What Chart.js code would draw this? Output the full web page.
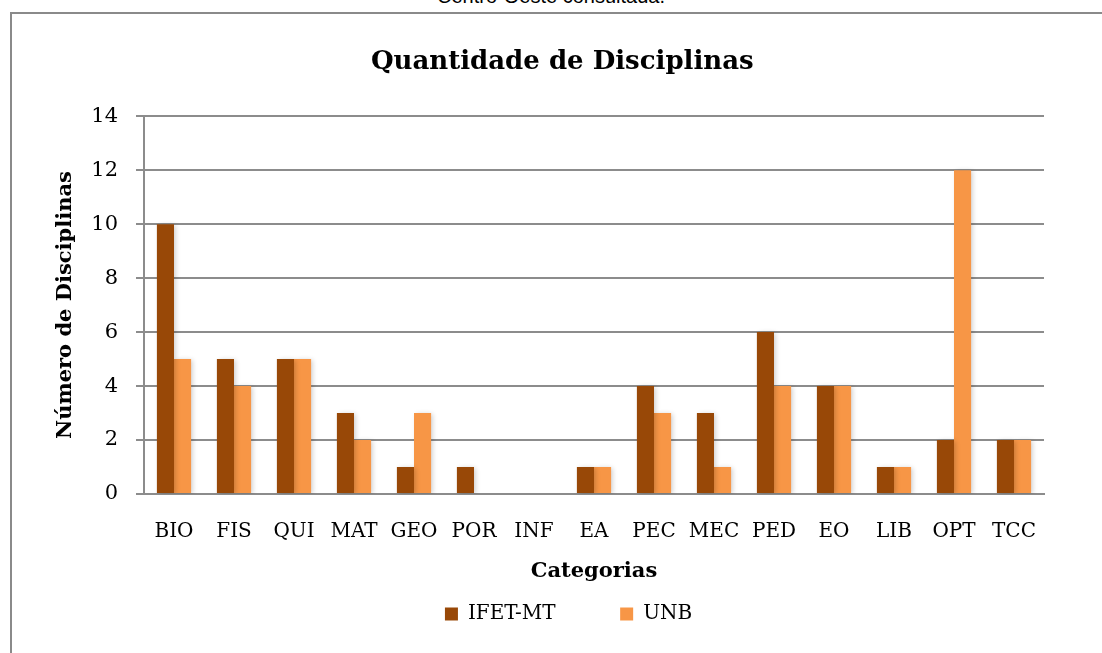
<!DOCTYPE html>
<html>
<head>
<meta charset="utf-8">
<script src="https://cdn.jsdelivr.net/npm/chart.js@4.4.0/dist/chart.umd.min.js"></script>
<style>
  html, body { margin: 0; padding: 0; background: #fff; }
  body { width: 1102px; height: 653px; position: relative; overflow: hidden; }
  #cap { position: absolute; left: 0; width: 1102px; top: -15px; text-align: center;
         font-family: "Liberation Sans", Arial, sans-serif; font-size: 20px; color: #000; }
  #frame { position: absolute; left: 10px; top: 12px; width: 1200px; height: 800px;
           border-left: 2px solid #8a8a8a; border-top: 2px solid #8a8a8a; }
  #grafik { position: absolute; left: 0; top: 0; }
</style>
</head>
<body>
<div id="cap">Centro-Oeste consultada.</div>
<div id="frame"></div>
<canvas id="grafik" width="1102" height="653"></canvas>
<script>
// ===== data =====
const kategori = ["BIO","FIS","QUI","MAT","GEO","POR","INF","EA","PEC","MEC","PED","EO","LIB","OPT","TCC"];
const ifetMT = [10, 5, 5, 3, 1, 1, 0, 1, 4, 3, 6, 4, 1, 2, 2];
const unb    = [5, 4, 5, 2, 3, 0, 0, 1, 3, 1, 4, 4, 1, 12, 2];
const yTicks = [0, 2, 4, 6, 8, 10, 12, 14];

const serif = "'DejaVu Serif', 'Liberation Serif', serif";
const grid = "#8c8c8c";

Chart.defaults.font.family = serif;
Chart.defaults.color = "#000";

// soft shadow behind the bars
const bayangan = {
  id: "bayangan",
  beforeDatasetsDraw(c) {
    const ctx = c.ctx;
    ctx.save();
    ctx.shadowColor = "rgba(0,0,0,0.2)";
    ctx.shadowBlur = 5;
    ctx.shadowOffsetX = 2;
    ctx.shadowOffsetY = 1;
  },
  afterDatasetsDraw(c) { c.ctx.restore(); }
};

const chart = new Chart(document.getElementById("grafik"), {
  type: "bar",
  data: {
    labels: kategori,
    datasets: [
      { label: "IFET-MT", data: ifetMT, backgroundColor: "#984807", barPercentage: 1, categoryPercentage: 0.57 },
      { label: "UNB", data: unb, backgroundColor: "#F79646", barPercentage: 1, categoryPercentage: 0.57 }
    ]
  },
  options: {
    responsive: false,
    animation: false,
    layout: { padding: { left: 49, right: 58, top: 37, bottom: 19 } },
    plugins: {
      title: {
        display: true,
        fullSize: false,
        text: "Quantidade de Disciplinas       ",
        font: { size: 26, weight: "bold" },
        padding: { top: 10, bottom: 38 }
      },
      legend: {
        position: "bottom",
        fullSize: false,
        labels: {
          boxWidth: 13, boxHeight: 13, padding: 20, font: { size: 20 },
          generateLabels(c) {
            const items = Chart.defaults.plugins.legend.labels.generateLabels(c);
            items[0].text = items[0].text + "       ";
            items[1].text = items[1].text + "        ";
            return items;
          }
        }
      },
      tooltip: { enabled: false }
    },
    scales: {
      x: {
        afterFit: s => { s.height = 90; },
        grid: { display: false, drawTicks: false },
        border: { color: grid, width: 2 },
        ticks: { font: { size: 20 }, padding: 26, maxRotation: 0 },
        title: { display: true, text: "Categorias", font: { size: 21, weight: "bold" }, padding: { top: 0, bottom: 0 } }
      },
      y: {
        min: 0, max: 14,
        afterFit: s => { s.width = 95; },
        afterBuildTicks: axis => { axis.ticks = yTicks.map(v => ({ value: v })); },
        grid: { color: grid, lineWidth: 2, tickLength: 8 },
        border: { color: grid, width: 2 },
        ticks: { font: { size: 21 }, padding: 18 },
        title: { display: true, text: "Número de Disciplinas", font: { size: 21, weight: "bold" }, padding: { top: 4, bottom: 0 } }
      }
    }
  },
  plugins: [bayangan]
});
</script>
</body>
</html>
